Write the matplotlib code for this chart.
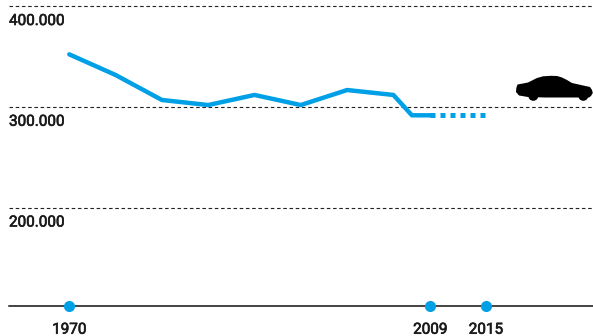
import matplotlib
matplotlib.use("Agg")
import matplotlib.pyplot as plt
import matplotlib.patheffects as pe
from matplotlib.patches import Circle, PathPatch
from matplotlib.path import Path
from matplotlib.transforms import Affine2D

years = [1970, 1975, 1980, 1985, 1990, 1995, 2000, 2005, 2007, 2009]
values = [352500, 332000, 307200, 302200, 312200, 302200, 317100, 312200, 292000, 292000]
forecast_years = [2009, 2015]
forecast_values = [292000, 292000]
grid_values = [400000, 300000, 200000]
grid_labels = ["400.000", "300.000", "200.000"]
baseline_value = 103000
marked_years = [1970, 2009, 2015]

BLUE = "#00a0e6"
INK = "#1a1a1a"
W, H = 593, 336
PX_PER_YEAR = 9.26
PX_PER_UNIT = 100.75 / 100000


def px_to_year(px):
    return 1970 + (px - 69.3) / PX_PER_YEAR


def py_to_value(py):
    return 400000 - (py - 6.5) / PX_PER_UNIT


def draw_car(ax):
    # icon outline in reference pixels, y pointing down
    verts = [
        (516, 92), (516.3, 88), (517.5, 84.5), (523, 83.5), (528, 82.5),
        (532, 80.5), (537, 78), (543, 76.3), (551, 75.8), (557, 76),
        (562, 77.5), (567, 80), (572, 83), (580, 84.8), (590, 87),
        (592, 90), (592.8, 93), (591, 96), (589, 97.5), (545, 97.5),
        (528, 97), (519, 95.5), (516, 92),
    ]
    codes = [Path.MOVETO] + [Path.LINETO] * (len(verts) - 2) + [Path.CLOSEPOLY]
    pixel_tf = Affine2D().scale(1, -1).translate(0, H)
    ax.add_patch(PathPatch(Path(verts, codes), fc="black", ec="none",
                           transform=pixel_tf, zorder=3, clip_on=False))
    for cx in (533.3, 583.3):
        ax.add_patch(Circle((cx, 95.8), 5, fc="black", ec="none",
                            transform=pixel_tf, zorder=3))


def add_label(ax, x, y, label):
    ax.text(x, y, label, fontsize=11, color=INK, ha="center" if x > 1965 else "left",
            va="center", path_effects=[pe.withStroke(linewidth=0.45, foreground=INK)])


def main():
    plt.rcParams["font.family"] = ["Roboto", "DejaVu Sans"]
    fig = plt.figure(figsize=(W / 100, H / 100), dpi=100)
    ax = fig.add_axes([0, 0, 1, 1])
    ax.set_xlim(px_to_year(0), px_to_year(W))
    ax.set_ylim(py_to_value(H), py_to_value(0))
    ax.axis("off")

    left = px_to_year(9)
    right = px_to_year(W)
    for value, label in zip(grid_values, grid_labels):
        ax.plot([left, right], [value, value], color="#222222", lw=0.8,
                dashes=(3.2, 2.4), zorder=1)
        add_label(ax, left, value - 14.5 / PX_PER_UNIT, label)

    ax.plot([left, right], [baseline_value, baseline_value], color="#111111",
            lw=1.1, zorder=1)

    ax.plot(years, values, color=BLUE, lw=3.2, solid_joinstyle="round",
            solid_capstyle="round", zorder=2)
    ax.plot(forecast_years, forecast_values, color=BLUE, lw=3.6,
            dashes=(1, 1), dash_capstyle="butt", zorder=2)

    ax.plot(marked_years, [baseline_value] * len(marked_years), "o", color=BLUE,
            ms=8, mew=0, zorder=3)
    for year in marked_years:
        add_label(ax, year, baseline_value - 24 / PX_PER_UNIT, str(year))

    draw_car(ax)
    fig.savefig("out.png", dpi=100)


if __name__ == "__main__":
    main()
